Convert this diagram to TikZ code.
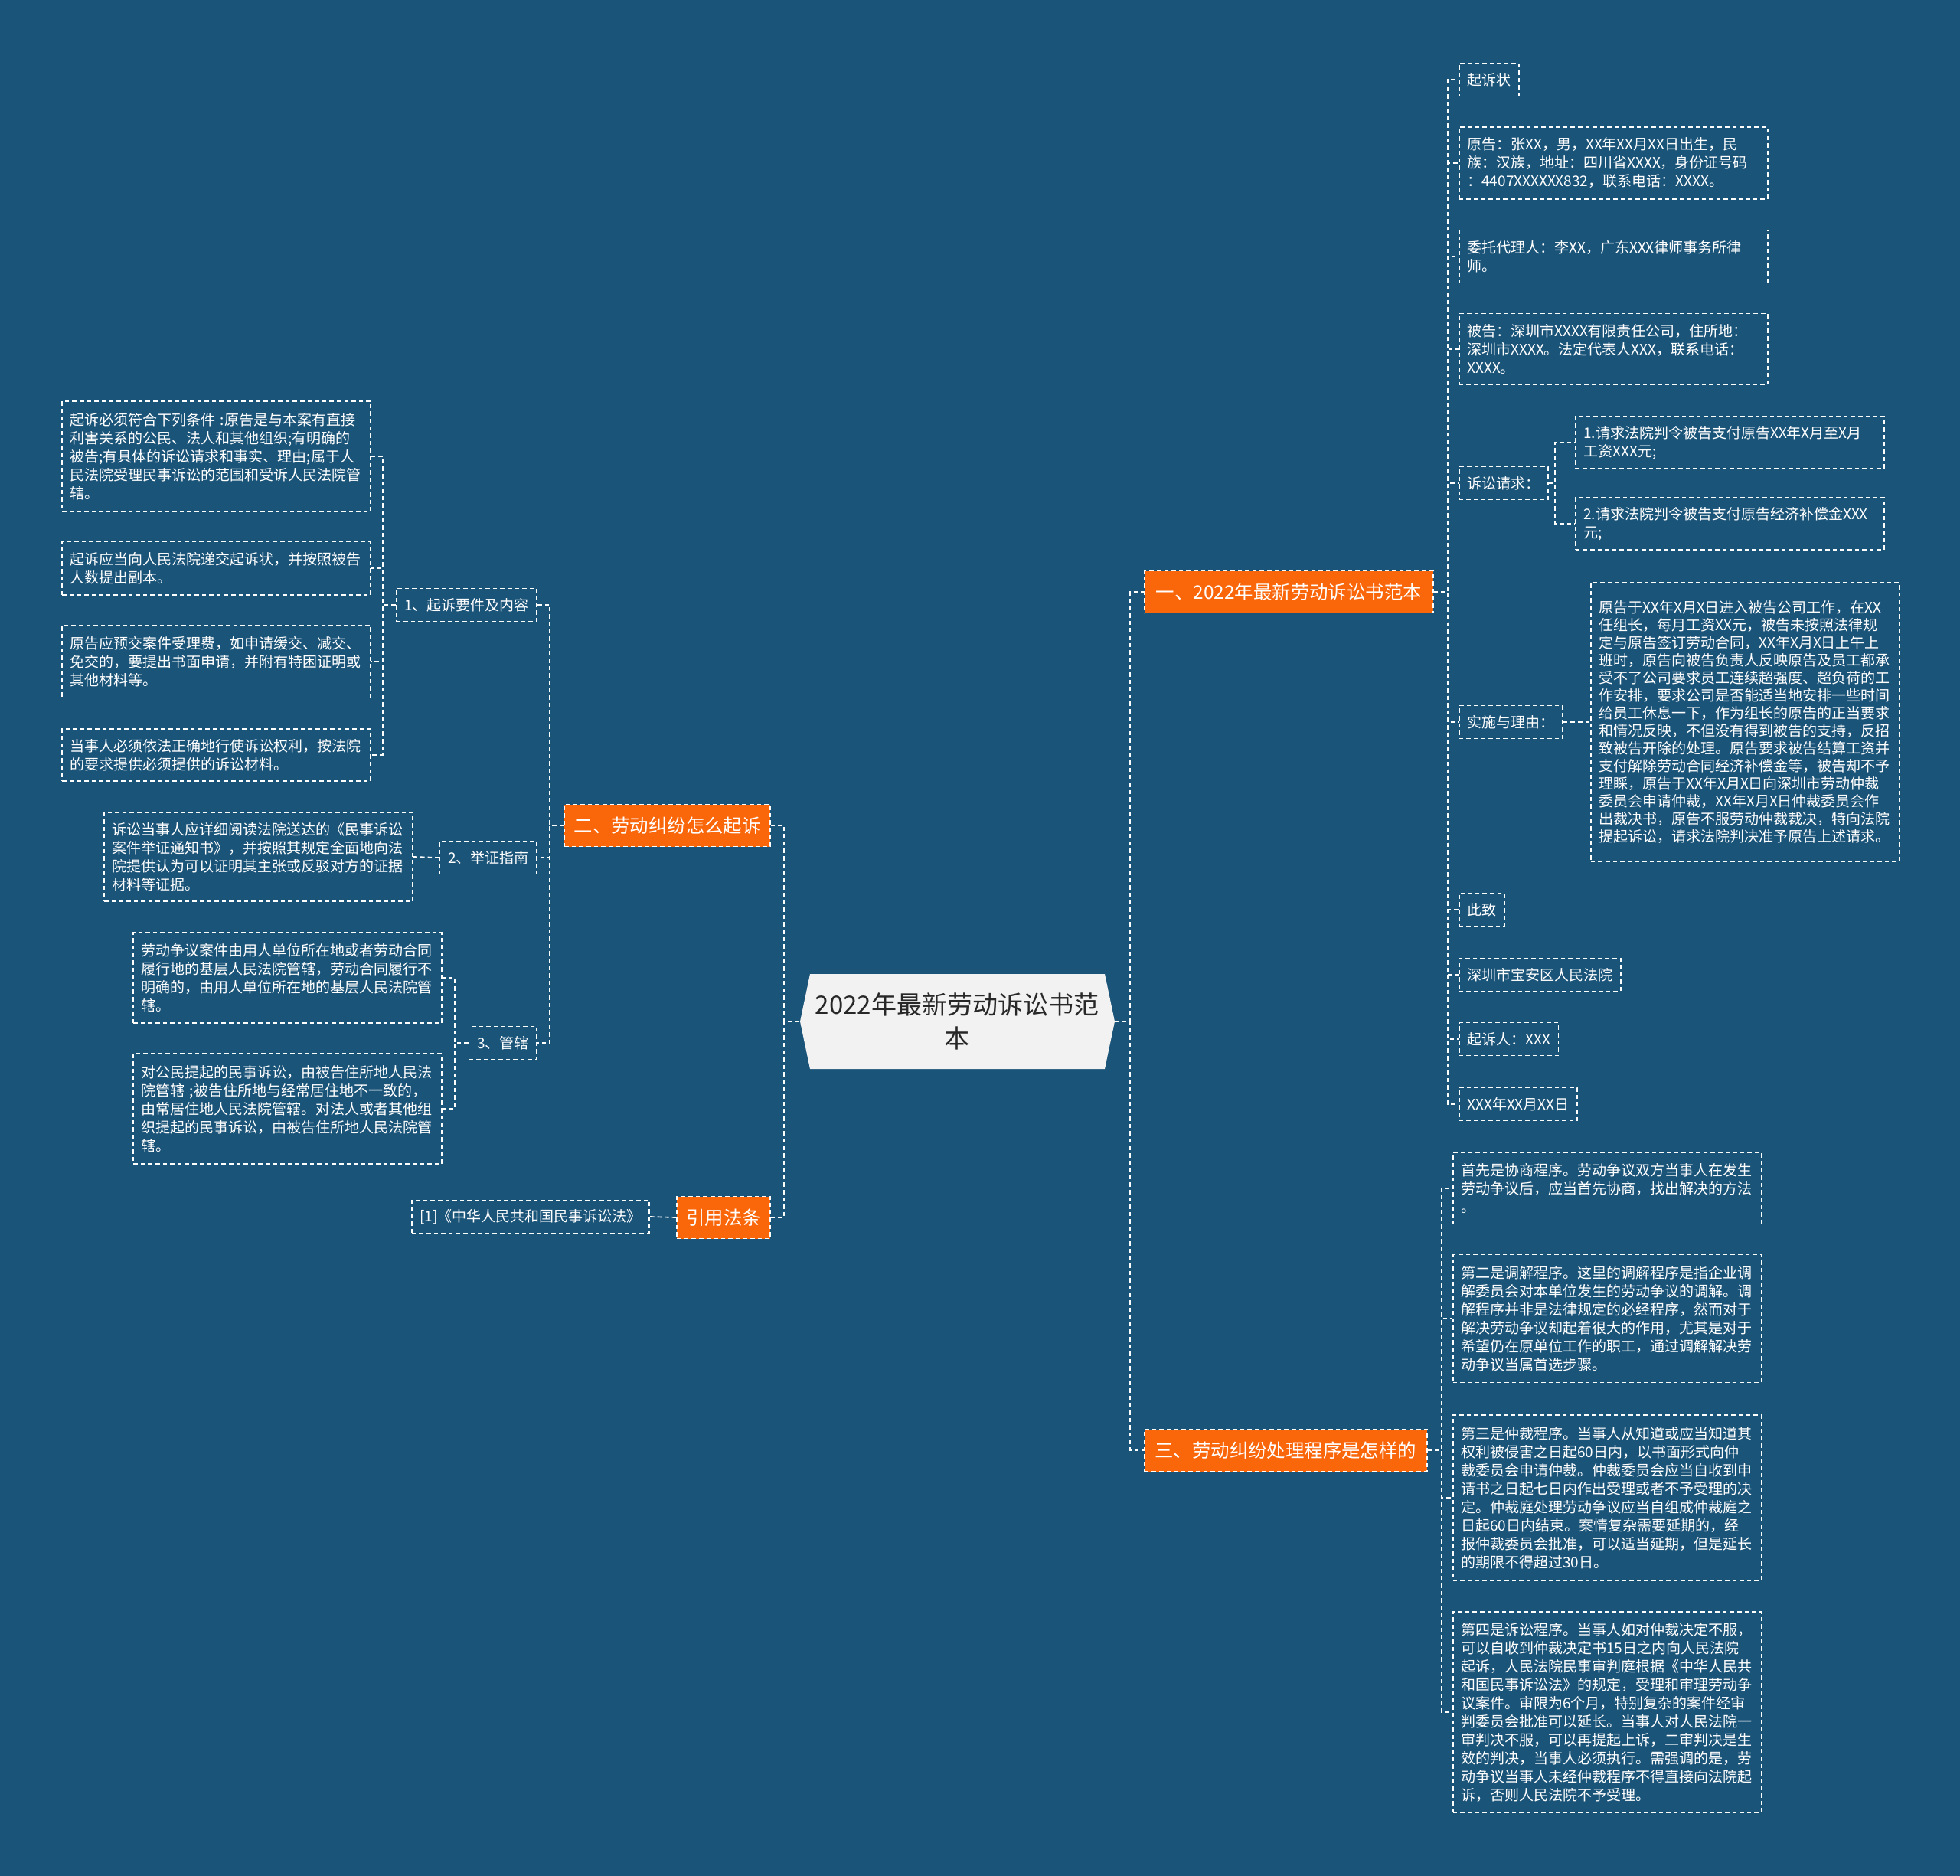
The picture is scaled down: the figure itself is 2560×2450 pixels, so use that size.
\documentclass[tikz,border=0pt]{standalone}
\usepackage{fontspec}
\setmainfont{Noto Sans CJK SC}
\definecolor{mapbg}{RGB}{27,84,121}
\definecolor{maporange}{RGB}{250,102,10}
\definecolor{rootgrey}{RGB}{242,242,242}
\definecolor{roottext}{RGB}{40,40,40}

\begin{document}
\begin{tikzpicture}[x=0.5pt, y=-0.5pt,
  dashline/.style={draw=white, line width=0.85pt, dash pattern=on 2.8pt off 2pt},
  link/.style={dashline},
  leaf/.style={dashline, text=white, font=\fontsize{9.5}{12}\selectfont, align=left,
    text width=191pt, inner xsep=5.25pt, inner ysep=0pt},
  tag/.style={dashline, text=white, font=\fontsize{9.5}{12}\selectfont,
    inner xsep=5.25pt, inner ysep=0pt, minimum height=21.5pt},
  topic/.style={dashline, fill=maporange, text=white, font=\fontsize{12.2}{15}\selectfont,
    inner xsep=4pt, inner ysep=0pt, minimum height=27.5pt},
  rootbox/.style={text=roottext, font=\fontsize{16.5}{22}\selectfont, align=center,
    minimum width=205.5pt, minimum height=62pt, inner sep=0pt}
]
\useasboundingbox (0,0) rectangle (2560,2450);
\fill[mapbg] (0,0) rectangle (2560,2450);

% root
\fill[rootgrey] (1058,1272) -- (1443,1272) -- (1456,1334) -- (1443,1396)
  -- (1058,1396) -- (1045,1334) -- cycle;
\node[rootbox] (root) at (1250,1334) {2022年最新劳动诉讼书范\\本};

% main topics
\node[topic, anchor=west, minimum width=188.5pt] (b1) at (1494,773) {一、2022年最新劳动诉讼书范本};
\node[topic, anchor=west, minimum width=184.5pt] (b3) at (1494,1894) {三、劳动纠纷处理程序是怎样的};
\node[topic, anchor=east, minimum width=134.5pt] (b2) at (1007,1078) {二、劳动纠纷怎么起诉};
\node[topic, anchor=east, minimum width=61pt] (b4) at (1007,1590) {引用法条};

% branch one
\node[tag, anchor=west] (s1) at (1905,104) {起诉状};
\node[leaf, anchor=west, minimum height=47pt] (s2) at (1905,213)
  {原告：张XX，男，XX年XX月XX日出生，民\\族：汉族，地址：四川省XXXX，身份证号码\\：4407XXXXXX832，联系电话：XXXX。};
\node[leaf, anchor=west, minimum height=34.5pt] (s3) at (1905,335)
  {委托代理人：李XX，广东XXX律师事务所律\\师。};
\node[leaf, anchor=west, minimum height=46.5pt] (s4) at (1905,456)
  {被告：深圳市XXXX有限责任公司，住所地：\\深圳市XXXX。法定代表人XXX，联系电话：\\XXXX。};
\node[tag, anchor=west] (s5) at (1905,631) {诉讼请求：};
\node[leaf, anchor=west, minimum height=34pt] (s51) at (2057,578)
  {1.请求法院判令被告支付原告XX年X月至X月\\工资XXX元;};
\node[leaf, anchor=west, minimum height=34pt] (s52) at (2057,684)
  {2.请求法院判令被告支付原告经济补偿金XXX\\元;};
\node[tag, anchor=west] (s6) at (1905,943) {实施与理由：};
\node[leaf, anchor=west, minimum height=182pt, font=\fontsize{9.5}{11.5}\selectfont] (s61) at (2077,943)
  {原告于XX年X月X日进入被告公司工作，在XX\\任组长，每月工资XX元，被告未按照法律规\\定与原告签订劳动合同，XX年X月X日上午上\\班时，原告向被告负责人反映原告及员工都承\\受不了公司要求员工连续超强度、超负荷的工\\作安排，要求公司是否能适当地安排一些时间\\给员工休息一下，作为组长的原告的正当要求\\和情况反映，不但没有得到被告的支持，反招\\致被告开除的处理。原告要求被告结算工资并\\支付解除劳动合同经济补偿金等，被告却不予\\理睬，原告于XX年X月X日向深圳市劳动仲裁\\委员会申请仲裁，XX年X月X日仲裁委员会作\\出裁决书，原告不服劳动仲裁裁决，特向法院\\提起诉讼，请求法院判决准予原告上述请求。};
\node[tag, anchor=west] (s7) at (1905,1188) {此致};
\node[tag, anchor=west] (s8) at (1905,1273) {深圳市宝安区人民法院};
\node[tag, anchor=west] (s9) at (1905,1357) {起诉人：XXX};
\node[tag, anchor=west] (s10) at (1905,1442) {XXX年XX月XX日};

% branch three
\node[leaf, anchor=west, minimum height=46.5pt] (p1) at (1897,1552)
  {首先是协商程序。劳动争议双方当事人在发生\\劳动争议后，应当首先协商，找出解决的方法\\。};
\node[leaf, anchor=west, minimum height=83.5pt] (p2) at (1897,1722)
  {第二是调解程序。这里的调解程序是指企业调\\解委员会对本单位发生的劳动争议的调解。调\\解程序并非是法律规定的必经程序，然而对于\\解决劳动争议却起着很大的作用，尤其是对于\\希望仍在原单位工作的职工，通过调解解决劳\\动争议当属首选步骤。};
\node[leaf, anchor=west, minimum height=108pt] (p3) at (1897,1956)
  {第三是仲裁程序。当事人从知道或应当知道其\\权利被侵害之日起60日内，以书面形式向仲\\裁委员会申请仲裁。仲裁委员会应当自收到申\\请书之日起七日内作出受理或者不予受理的决\\定。仲裁庭处理劳动争议应当自组成仲裁庭之\\日起60日内结束。案情复杂需要延期的，经\\报仲裁委员会批准，可以适当延期，但是延长\\的期限不得超过30日。};
\node[leaf, anchor=west, minimum height=131pt] (p4) at (1897,2236)
  {第四是诉讼程序。当事人如对仲裁决定不服，\\可以自收到仲裁决定书15日之内向人民法院\\起诉，人民法院民事审判庭根据《中华人民共\\和国民事诉讼法》的规定，受理和审理劳动争\\议案件。审限为6个月，特别复杂的案件经审\\判委员会批准可以延长。当事人对人民法院一\\审判决不服，可以再提起上诉，二审判决是生\\效的判决，当事人必须执行。需强调的是，劳\\动争议当事人未经仲裁程序不得直接向法院起\\诉，否则人民法院不予受理。};

% branch two
\node[tag, anchor=east] (q1) at (702,790) {1、起诉要件及内容};
\node[leaf, anchor=east, minimum height=72pt] (q11) at (485,596)
  {起诉必须符合下列条件 :原告是与本案有直接\\利害关系的公民、法人和其他组织;有明确的\\被告;有具体的诉讼请求和事实、理由;属于人\\民法院受理民事诉讼的范围和受诉人民法院管\\辖。};
\node[leaf, anchor=east, minimum height=35pt] (q12) at (485,742)
  {起诉应当向人民法院递交起诉状，并按照被告\\人数提出副本。};
\node[leaf, anchor=east, minimum height=47.5pt] (q13) at (485,864)
  {原告应预交案件受理费，如申请缓交、减交、\\免交的，要提出书面申请，并附有特困证明或\\其他材料等。};
\node[leaf, anchor=east, minimum height=34pt] (q14) at (485,986)
  {当事人必须依法正确地行使诉讼权利，按法院\\的要求提供必须提供的诉讼材料。};
\node[tag, anchor=east] (q2) at (702,1120) {2、举证指南};
\node[leaf, anchor=east, minimum height=58pt] (q21) at (540,1119)
  {诉讼当事人应详细阅读法院送达的《民事诉讼\\案件举证通知书》，并按照其规定全面地向法\\院提供认为可以证明其主张或反驳对方的证据\\材料等证据。};
\node[tag, anchor=east] (q3) at (702,1362) {3、管辖};
\node[leaf, anchor=east, minimum height=59pt] (q31) at (578,1277)
  {劳动争议案件由用人单位所在地或者劳动合同\\履行地的基层人民法院管辖，劳动合同履行不\\明确的，由用人单位所在地的基层人民法院管\\辖。};
\node[leaf, anchor=east, minimum height=72pt] (q32) at (578,1448)
  {对公民提起的民事诉讼，由被告住所地人民法\\院管辖 ;被告住所地与经常居住地不一致的，\\由常居住地人民法院管辖。对法人或者其他组\\织提起的民事诉讼，由被告住所地人民法院管\\辖。};

% law
\node[tag, anchor=east] (r1) at (849,1589) {[1]《中华人民共和国民事诉讼法》};

% connectors
\foreach \c in {b1,b3}
  \draw[link] (root.east) -- ++(20,0) |- (\c.west);
\foreach \c in {b2,b4}
  \draw[link] (root.west) -- ++(-20,0) |- (\c.east);
\foreach \c in {s1,s2,s3,s4,s5,s6,s7,s8,s9,s10}
  \draw[link] (b1.east) -- ++(18,0) |- (\c.west);
\foreach \c in {s51,s52}
  \draw[link] (s5.east) -- ++(8,0) |- (\c.west);
\draw[link] (s6.east) -- (s61.west);
\foreach \c in {p1,p2,p3,p4}
  \draw[link] (b3.east) -- ++(18,0) |- (\c.west);
\foreach \c in {q1,q2,q3}
  \draw[link] (b2.west) -- ++(-18,0) |- (\c.east);
\foreach \c in {q11,q12,q13,q14}
  \draw[link] (q1.west) -- ++(-17,0) |- (\c.east);
\draw[link] (q2.west) -- (q21.east);
\foreach \c in {q31,q32}
  \draw[link] (q3.west) -- ++(-18,0) |- (\c.east);
\draw[link] (b4.west) -- (r1.east);
\end{tikzpicture}
\end{document}
